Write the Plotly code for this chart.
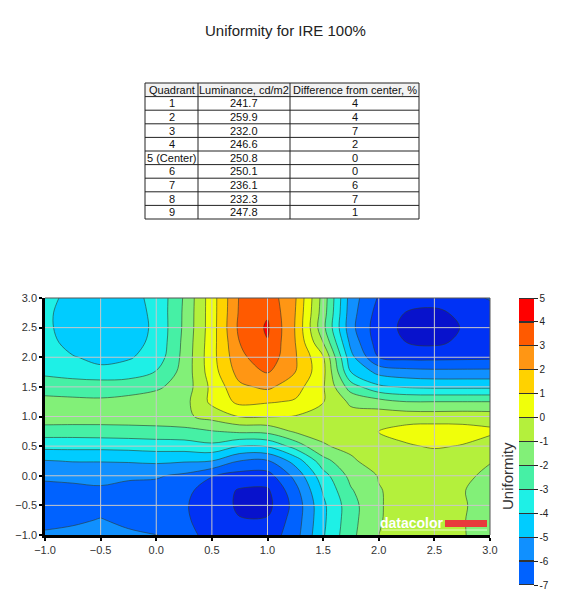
import plotly.graph_objects as go

# ---- table data ----
QUADRANTS = ["1", "2", "3", "4", "5 (Center)", "6", "7", "8", "9"]
LUMINANCE = ["241.7", "259.9", "232.0", "246.6", "250.8", "250.1", "236.1", "232.3", "247.8"]
DIFF_PCT = ["4", "4", "7", "2", "0", "0", "6", "7", "1"]
TABLE_HEADER = ["Quadrant", "Luminance, cd/m2", "Difference from center, %"]

# ---- contour grid ----
X_VALS = [-1.0, -0.75, -0.5, -0.25, 0.0, 0.25, 0.5, 0.75, 1.0,
          1.25, 1.5, 1.75, 2.0, 2.25, 2.5, 2.75, 3.0]
Y_VALS = [-1.0, -0.75, -0.5, -0.25, 0.0, 0.25, 0.5, 0.75, 1.0,
          1.25, 1.5, 1.75, 2.0, 2.25, 2.5, 2.75, 3.0]

# one list per x column, values from y=-1.0 up to y=3.0
z_x_m100 = [-5.85, -6.3, -6.45, -6.35, -5.8, -5.05, -3.7, -2.5, -1.35, -1.7, -2.45, -3.2, -3.5, -3.7, -3.8, -3.8, -3.75]
z_x_m075 = [-5.75, -6.15, -6.4, -6.25, -5.75, -4.95, -3.7, -2.5, -1.4, -1.8, -2.45, -3.45, -3.95, -4.3, -4.45, -4.45, -4.25]
z_x_m050 = [-5.6, -5.95, -6.3, -6.15, -5.7, -4.95, -3.7, -2.45, -1.45, -1.9, -2.3, -3.8, -4.2, -4.5, -4.6, -4.55, -4.35]
z_x_m025 = [-5.85, -6.2, -6.45, -6.3, -5.85, -4.9, -3.65, -2.4, -1.45, -1.75, -2.35, -3.55, -4.1, -4.3, -4.4, -4.4, -4.25]
z_x_p000 = [-5.95, -6.4, -6.55, -6.35, -5.9, -4.8, -3.55, -2.35, -1.4, -1.55, -2.15, -2.95, -3.6, -3.8, -3.85, -3.8, -3.8]
z_x_p025 = [-6.7, -6.85, -6.9, -6.75, -6.2, -4.9, -3.5, -2.3, -1.2, -1.35, -1.6, -1.65, -1.7, -1.75, -1.83, -1.85, -1.9]
z_x_p050 = [-7.3, -7.45, -7.5, -7.45, -6.95, -5.0, -3.25, -2.05, -0.65, 0.25, 0.25, 0.55, 0.65, 0.6, 0.55, 0.55, 0.55]
z_x_p075 = [-7.6, -7.95, -8.15, -8.1, -7.4, -6.0, -4.0, -1.8, 0.05, 1.25, 1.8, 2.4, 2.75, 3.0, 3.25, 3.15, 3.1]
z_x_p100 = [-7.6, -7.9, -8.3, -8.15, -7.4, -6.1, -3.9, -1.7, 0.05, 1.1, 2.2, 3.05, 3.65, 3.95, 4.12, 3.9, 3.6]
z_x_p125 = [-6.4, -6.55, -6.65, -6.35, -5.7, -4.6, -2.6, -0.85, -0.05, 0.9, 1.4, 2.0, 2.1, 2.0, 1.95, 2.0, 2.1]
z_x_p150 = [-4.1, -4.2, -4.2, -3.9, -3.4, -2.4, -1.05, -0.85, -0.6, 0.05, 0.1, 0.3, 0.1, -1.0, -1.7, -1.5, -1.4]
z_x_p175 = [-2.25, -2.35, -2.4, -2.1, -1.7, -1.1, -0.85, -0.8, -0.6, -1.2, -2.5, -4.0, -4.7, -5.3, -5.7, -5.6, -5.5]
z_x_p200 = [-1.0, -1.05, -1.05, -1.05, -0.95, -0.7, -0.35, 0.05, -0.4, -1.6, -3.8, -5.3, -7.0, -7.5, -7.6, -7.4, -7.1]
z_x_p225 = [-0.7, -0.7, -0.75, -0.7, -0.6, -0.5, -0.1, 0.35, -0.45, -2.0, -4.1, -5.6, -7.3, -8.0, -8.2, -8.05, -7.5]
z_x_p250 = [-0.8, -0.8, -0.8, -0.75, -0.65, -0.5, 0.1, 0.5, -0.5, -2.0, -4.2, -5.7, -7.3, -8.2, -8.5, -8.15, -7.7]
z_x_p275 = [-0.95, -0.95, -0.9, -0.95, -0.8, -0.6, -0.05, 0.4, -0.45, -2.0, -4.2, -5.7, -7.25, -7.8, -7.95, -7.85, -7.4]
z_x_p300 = [-1.3, -1.35, -1.4, -1.35, -1.2, -0.95, -0.5, 0.2, -0.5, -2.0, -4.2, -5.7, -7.2, -7.6, -7.7, -7.5, -6.9]

columns = [z_x_m100, z_x_m075, z_x_m050, z_x_m025, z_x_p000, z_x_p025, z_x_p050,
           z_x_p075, z_x_p100, z_x_p125, z_x_p150, z_x_p175, z_x_p200, z_x_p225,
           z_x_p250, z_x_p275, z_x_p300]
z_rows = [list(r) for r in zip(*columns)]  # plotly wants rows by y

AXIS_TICKS = [-1.0, -0.5, 0.0, 0.5, 1.0, 1.5, 2.0, 2.5, 3.0]
CBAR_TICKS = list(range(-7, 6))

# band colours, lowest band (< -9) first, top band (4..5) last
LEVEL_COLORS = ["#0a0fb4", "#0812cc", "#0032f5", "#0062ff", "#1090ff", "#00ccff",
                "#1ef0e6", "#46f0a5", "#82f078", "#b4f03c", "#f0ff0a", "#ffd200",
                "#ff9614", "#ff5a00", "#ff0000"]

FONT = "Liberation Sans, Arial, sans-serif"
# page body has an 8px margin, so the figure is a bit smaller than the window
OFF = 8
W, H = 570 - 2 * OFF, 601 - 2 * OFF


def px(v):
    # screen pixel -> paper x
    return (v - OFF) / W


def py(v):
    # screen pixel -> paper y
    return 1 - (v - OFF) / H


n_lv = len(LEVEL_COLORS) - 1
contour_scale = [[k / n_lv, c] for k, c in enumerate(LEVEL_COLORS)]

# stepped scale for the -7..5 colour bar with dark lines between bands
bar_colors = LEVEL_COLORS[3:]
nb = len(bar_colors)
e = 0.0022
bar_scale = []
for k, c in enumerate(bar_colors):
    lo, hi = k / nb, (k + 1) / nb
    bar_scale += [[lo, "#333333"], [lo + e, "#333333"], [lo + e, c],
                  [hi - e, c], [hi - e, "#333333"], [hi, "#333333"]]

fig = go.Figure()

fig.add_trace(go.Contour(
    x=X_VALS, y=Y_VALS, z=z_rows,
    autocontour=False,
    contours=dict(start=-9, end=4, size=1, coloring="fill", showlines=True),
    line=dict(color="rgba(45,60,45,0.75)", width=0.8, smoothing=1.0),
    colorscale=contour_scale,
    showscale=False,
    hoverinfo="skip",
))

# colour bar only (-7..5)
fig.add_trace(go.Scatter(
    x=[None], y=[None], mode="markers", showlegend=False, hoverinfo="skip",
    marker=dict(color=[0], cmin=-7, cmax=5, colorscale=bar_scale, showscale=True,
                colorbar=dict(x=px(519), xanchor="left", y=py(585), yanchor="bottom",
                              len=287 / H, lenmode="fraction", thickness=15,
                              xpad=0, ypad=0, outlinewidth=0,
                              tickvals=CBAR_TICKS, ticktext=[str(t) for t in CBAR_TICKS],
                              ticks="outside", ticklen=4, tickcolor="#222222",
                              tickfont=dict(family=FONT, size=10, color="#222222"))),
))

axis_style = dict(range=[-1, 3], tickvals=AXIS_TICKS, tickformat=".1f",
                  showgrid=False, zeroline=False, showline=True, linecolor="black",
                  linewidth=2.5, ticks="outside", ticklen=3, tickwidth=1.5,
                  tickcolor="black", tickfont=dict(family=FONT, size=11, color="#333333"),
                  fixedrange=True)

fig.update_layout(
    width=W, height=H,
    margin=dict(l=0, r=0, t=0, b=0, autoexpand=False),
    paper_bgcolor="white", plot_bgcolor="white",
    showlegend=False,
    xaxis=dict(domain=[px(45), px(490)], **axis_style),
    yaxis=dict(domain=[py(535), py(298)], **axis_style),
)

shapes = []
# grid lines on top of the fill
for v in AXIS_TICKS[1:-1]:
    shapes.append(dict(type="line", xref="x", yref="y domain", x0=v, x1=v, y0=0, y1=1,
                       line=dict(color="#c8c8c8", width=1), layer="above"))
    shapes.append(dict(type="line", xref="x domain", yref="y", x0=0, x1=1, y0=v, y1=v,
                       line=dict(color="#c8c8c8", width=1), layer="above"))
# thin top/right border
shapes.append(dict(type="line", xref="x domain", yref="y domain", x0=0, x1=1, y0=1, y1=1,
                   line=dict(color="#555555", width=1), layer="above"))
shapes.append(dict(type="line", xref="x domain", yref="y domain", x0=1, x1=1, y0=0, y1=1,
                   line=dict(color="#555555", width=1), layer="above"))
# datacolor logo bar
shapes.append(dict(type="rect", xref="paper", yref="paper",
                   x0=px(445), x1=px(487), y0=py(527), y1=py(520),
                   fillcolor="#e83a3c", line=dict(width=0), layer="above"))
shapes.append(dict(type="line", xref="paper", yref="paper",
                   x0=px(382), x1=px(487), y0=py(530), y1=py(530),
                   line=dict(color="rgba(255,255,255,0.7)", width=1), layer="above"))

# ---- table drawn with lines + text ----
col_edges = [145, 198, 290, 419]
row_top, row_h = 83, 13.6
n_rows = len(QUADRANTS) + 1
tbl_bottom = row_top + n_rows * row_h
shapes.append(dict(type="rect", xref="paper", yref="paper",
                   x0=px(col_edges[0]), x1=px(col_edges[-1]),
                   y0=py(row_top + row_h), y1=py(row_top),
                   fillcolor="#f2f2f2", line=dict(width=0), layer="below"))
for r in range(n_rows + 1):
    yy = py(row_top + r * row_h)
    shapes.append(dict(type="line", xref="paper", yref="paper",
                       x0=px(col_edges[0]), x1=px(col_edges[-1]), y0=yy, y1=yy,
                       line=dict(color="#222222", width=1)))
for cx in col_edges:
    shapes.append(dict(type="line", xref="paper", yref="paper",
                       x0=px(cx), x1=px(cx), y0=py(tbl_bottom), y1=py(row_top),
                       line=dict(color="#222222", width=1)))
fig.update_layout(shapes=shapes)

table_cols = [QUADRANTS, LUMINANCE, DIFF_PCT]
for c, (head, vals) in enumerate(zip(TABLE_HEADER, table_cols)):
    xc = px((col_edges[c] + col_edges[c + 1]) / 2)
    for r, txt in enumerate([head] + vals):
        fig.add_annotation(text=txt, x=xc, y=py(row_top + (r + 0.5) * row_h),
                           xref="paper", yref="paper", showarrow=False,
                           xanchor="center", yanchor="middle",
                           font=dict(family=FONT, size=11, color="#111111"))

fig.add_annotation(text="Uniformity for IRE 100%", x=px(285), y=py(31),
                   xref="paper", yref="paper", showarrow=False,
                   xanchor="center", yanchor="middle",
                   font=dict(family=FONT, size=15, color="#222222"))
fig.add_annotation(text="Uniformity", x=px(507), y=py(476),
                   xref="paper", yref="paper", showarrow=False, textangle=-90,
                   xanchor="center", yanchor="middle",
                   font=dict(family=FONT, size=15, color="#333333"))
fig.add_annotation(text="<b>datacolor</b>", x=px(412), y=py(523),
                   xref="paper", yref="paper", showarrow=False,
                   xanchor="center", yanchor="middle",
                   font=dict(family=FONT, size=14, color="white"))

fig.write_html("out.html")
